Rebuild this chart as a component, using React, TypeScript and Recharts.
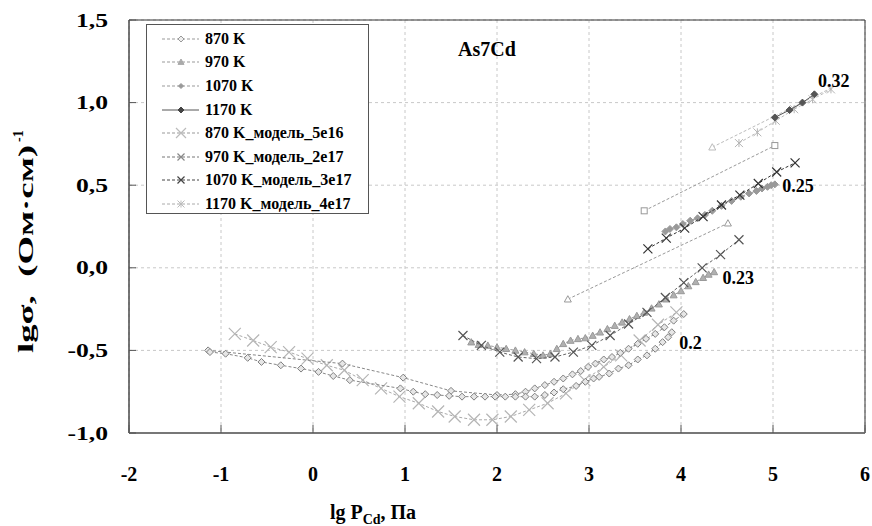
import React from "react";
import {
  ScatterChart,
  Scatter,
  XAxis,
  YAxis,
  CartesianGrid,
  ReferenceArea,
  Legend,
} from "recharts";

const FONT = "Liberation Serif, DejaVu Serif, serif";

// 870 K, experiment (dense run)
const exp870X = [-1.12, -0.95, -0.71, -0.56, -0.35, -0.13, 0.06, 0.22, 0.4, 0.95, 1.09, 1.22, 1.35, 1.48, 1.62, 1.75, 1.87, 1.98, 2.09, 2.2, 2.31, 2.41, 2.52, 2.62, 2.72, 2.86, 2.96, 3.05, 3.11, 3.22, 3.32, 3.43, 3.53, 3.63, 3.72, 3.8, 3.86, 3.9];
const exp870Y = [-0.51, -0.52, -0.545, -0.57, -0.59, -0.61, -0.63, -0.655, -0.68, -0.73, -0.75, -0.765, -0.77, -0.775, -0.78, -0.78, -0.78, -0.78, -0.78, -0.78, -0.78, -0.78, -0.77, -0.755, -0.735, -0.715, -0.69, -0.67, -0.66, -0.64, -0.61, -0.59, -0.555, -0.53, -0.49, -0.45, -0.42, -0.39];

// 870 K, second run (not in legend)
const exp870bX = [-1.14, 0.32, 0.98, 1.5, 2.0, 2.2, 2.31, 2.41, 2.52, 2.62, 2.72, 2.82, 2.91, 2.99, 3.07, 3.16, 3.25, 3.34, 3.43, 3.53, 3.62, 3.72, 3.82, 3.92, 4.03];
const exp870bY = [-0.5, -0.58, -0.665, -0.745, -0.77, -0.765, -0.75, -0.73, -0.71, -0.69, -0.67, -0.645, -0.625, -0.6, -0.58, -0.555, -0.54, -0.515, -0.49, -0.46, -0.43, -0.4, -0.36, -0.32, -0.28];

const exp970X = [1.72, 1.8, 1.9, 2.0, 2.1, 2.2, 2.3, 2.4, 2.5, 2.58, 2.65, 2.72, 2.8, 2.88, 2.96, 3.04, 3.12, 3.2, 3.28, 3.36, 3.44, 3.52, 3.6, 3.68, 3.76, 3.84, 3.92, 4.0, 4.08, 4.16, 4.24, 4.3, 4.36];
const exp970Y = [-0.45, -0.465, -0.47, -0.48, -0.49, -0.5, -0.51, -0.52, -0.53, -0.52, -0.49, -0.46, -0.44, -0.43, -0.425, -0.41, -0.39, -0.37, -0.35, -0.33, -0.31, -0.29, -0.27, -0.245, -0.22, -0.19, -0.165, -0.14, -0.11, -0.085, -0.06, -0.04, -0.025];

const exp1070X = [3.83, 3.88, 3.95, 4.02, 4.1, 4.18, 4.26, 4.34, 4.44, 4.55, 4.65, 4.74, 4.82, 4.88, 4.94, 4.98, 5.02];
const exp1070Y = [0.22, 0.235, 0.245, 0.265, 0.285, 0.3, 0.32, 0.345, 0.375, 0.405, 0.43, 0.45, 0.465, 0.48, 0.49, 0.5, 0.505];

const exp1170X = [5.02, 5.18, 5.32, 5.45];
const exp1170Y = [0.91, 0.955, 1.0, 1.05];

const mod870X = [-0.85, -0.65, -0.46, -0.26, -0.06, 0.15, 0.34, 0.54, 0.74, 0.94, 1.15, 1.36, 1.54, 1.75, 1.95, 2.15, 2.35, 2.55, 2.75, 2.95, 3.16, 3.35, 3.55, 3.75, 3.95];
const mod870Y = [-0.4, -0.44, -0.48, -0.51, -0.55, -0.59, -0.62, -0.68, -0.73, -0.78, -0.82, -0.87, -0.9, -0.92, -0.92, -0.9, -0.86, -0.82, -0.76, -0.68, -0.6, -0.53, -0.44, -0.345, -0.27];

const mod970X = [1.63, 1.83, 2.03, 2.23, 2.43, 2.63, 2.83, 3.03, 3.23, 3.43, 3.63, 3.83, 4.03, 4.23, 4.43, 4.63];
const mod970Y = [-0.41, -0.47, -0.51, -0.54, -0.55, -0.54, -0.51, -0.47, -0.41, -0.34, -0.27, -0.18, -0.09, 0.0, 0.08, 0.17];

const mod1070X = [3.64, 3.84, 4.04, 4.24, 4.44, 4.64, 4.84, 5.04, 5.24];
const mod1070Y = [0.115, 0.18, 0.24, 0.31, 0.38, 0.44, 0.51, 0.58, 0.635];

const mod1170X = [4.63, 4.83, 5.03, 5.23, 5.43, 5.63];
const mod1170Y = [0.755, 0.82, 0.89, 0.96, 1.02, 1.08];

// straight fit lines (not in legend)
const fitTopX = [4.34, 5.64];
const fitTopY = [0.73, 1.09];
const fitSquareX = [3.6, 5.02];
const fitSquareY = [0.345, 0.74];
const fitTriX = [2.77, 4.51];
const fitTriY = [-0.19, 0.27];

const slopeLabels = ["0.32", "0.25", "0.23", "0.2"];
const slopeX = [5.49, 5.1, 4.45, 3.98];
const slopeY = [1.13, 0.5, -0.06, -0.455];

const xTicks = [-2, -1, 0, 1, 2, 3, 4, 5, 6];
const yTicks = [-1, -0.5, 0, 0.5, 1, 1.5];

const zip = (xs: number[], ys: number[]) => xs.map((x, i) => ({ x, y: ys[i] }));

const diamond = (s: number, fill: string, stroke: string) => (p: any) => {
  const { cx, cy } = p;
  const h = s / 2;
  return (
    <path
      d={`M${cx},${cy - h}L${cx + h},${cy}L${cx},${cy + h}L${cx - h},${cy}Z`}
      fill={fill}
      stroke={stroke}
      strokeWidth={1}
    />
  );
};

const triangle = (s: number, fill: string, stroke: string) => (p: any) => {
  const { cx, cy } = p;
  const h = s / 2;
  return (
    <path
      d={`M${cx},${cy - h}L${cx + h},${cy + h * 0.8}L${cx - h},${cy + h * 0.8}Z`}
      fill={fill}
      stroke={stroke}
      strokeWidth={1}
    />
  );
};

const square = (s: number, stroke: string) => (p: any) => {
  const { cx, cy } = p;
  return <rect x={cx - s / 2} y={cy - s / 2} width={s} height={s} fill="#fff" stroke={stroke} />;
};

const cross = (s: number, stroke: string) => (p: any) => {
  const { cx, cy } = p;
  const h = s / 2;
  return (
    <path
      d={`M${cx - h},${cy - h}L${cx + h},${cy + h}M${cx + h},${cy - h}L${cx - h},${cy + h}`}
      stroke={stroke}
      strokeWidth={1.2}
      fill="none"
    />
  );
};

const star = (s: number, stroke: string) => (p: any) => {
  const { cx, cy } = p;
  const h = s / 2;
  return (
    <path
      d={`M${cx - h},${cy - h}L${cx + h},${cy + h}M${cx + h},${cy - h}L${cx - h},${cy + h}M${cx},${cy - h}L${cx},${cy + h}`}
      stroke={stroke}
      strokeWidth={1}
      fill="none"
    />
  );
};

const none = () => <g />;

const dash = "3 2";

const legendItems = [
  { name: "870 K", stroke: "#999", dash, shape: diamond(6, "#eee", "#999") },
  { name: "970 K", stroke: "#999", dash, shape: triangle(6, "#aaa", "#aaa") },
  { name: "1070 K", stroke: "#999", dash, shape: diamond(5, "#999", "#999") },
  { name: "1170 K", stroke: "#555", dash: undefined, shape: diamond(6, "#444", "#444") },
  { name: "870 K_модель_5e16", stroke: "#999", dash, shape: cross(10, "#bbb") },
  { name: "970 K_модель_2e17", stroke: "#777", dash, shape: cross(7, "#888") },
  { name: "1070 K_модель_3e17", stroke: "#444", dash, shape: cross(7, "#444") },
  { name: "1170 K_модель_4e17", stroke: "#aaa", dash, shape: star(7, "#bbb") },
];

const LegendBox = () => (
  <div
    style={{
      width: 223,
      height: 190,
      boxSizing: "border-box",
      border: "1px solid #555",
      background: "#fff",
      paddingTop: 2,
      fontFamily: FONT,
      fontWeight: "bold",
      fontSize: 16,
      color: "#000",
    }}
  >
    {legendItems.map((it) => (
      <div key={it.name} style={{ height: 23.6, display: "flex", alignItems: "center" }}>
        <svg width={58} height={16} style={{ flex: "none" }}>
          <line x1={15} x2={52} y1={8} y2={8} stroke={it.stroke} strokeDasharray={it.dash} />
          {it.shape({ cx: 34, cy: 8 })}
        </svg>
        <span style={{ whiteSpace: "nowrap" }}>{it.name}</span>
      </div>
    ))}
  </div>
);

const fmtY = (v: number) => v.toFixed(1).replace(".", ",");

const XTick = (p: any) => {
  const { x, y, payload } = p;
  return (
    <g>
      <line x1={x} x2={x} y1={y - 34} y2={y - 42} stroke="#555" />
      <text x={x} y={y} dy="0.71em" textAnchor="middle" fontFamily={FONT} fontWeight="bold" fontSize={20} fill="#000">
        {payload.value}
      </text>
    </g>
  );
};

const YTick = (p: any) => {
  const { x, y, payload } = p;
  return (
    <g>
      <line x1={x + 21} x2={x + 28} y1={y} y2={y} stroke="#555" />
      <text
        transform={`translate(${x},${y}) scale(1.35,1)`}
        dy="0.35em"
        textAnchor="end"
        fontFamily={FONT}
        fontWeight="bold"
        fontSize={19}
        fill="#000"
      >
        {fmtY(payload.value)}
      </text>
    </g>
  );
};

const Titles = () => (
  <g fontFamily={FONT} fontWeight="bold" fill="#000">
    <text x={373} y={519} textAnchor="middle" fontSize={20}>
      lg P<tspan dy={5} fontSize={14}>Cd</tspan>
      <tspan dy={-5}>, Па</tspan>
    </text>
    <text x={487} y={56} textAnchor="middle" fontSize={20}>
      As7Cd
    </text>
  </g>
);

const YTitle = () => (
  <g transform="translate(33,236) rotate(-90)" fontFamily={FONT} fontWeight="bold" fill="#000">
    <text x={-117} y={0} fontSize={21} textLength={208} lengthAdjust="spacingAndGlyphs">
      {"lgσ,\u00a0\u00a0(Ом·см)"}
    </text>
    <text x={94} y={-10} fontSize={14}>
      -1
    </text>
  </g>
);

const SlopeText = (p: any) => (
  <text
    x={p.cx}
    y={p.cy}
    dy="0.35em"
    fontFamily={FONT}
    fontWeight="bold"
    fontSize={18}
    fill="#000"
  >
    {p.payload.label}
  </text>
);

const line = (stroke: string, d?: string) => ({ stroke, strokeWidth: 1, strokeDasharray: d });

export default function App() {
  const slopes = slopeLabels.map((label, i) => ({ x: slopeX[i], y: slopeY[i], label }));
  const topTri = triangle(7, "#fff", "#bbb");
  return (
    <div style={{ position: "absolute", left: 0, top: 0, background: "#fff" }}>
      <ScatterChart width={872} height={526} margin={{ top: 20, right: 7, left: 0, bottom: 0 }}>
        <CartesianGrid stroke="#c8c8c8" strokeDasharray="3 3" />
        <XAxis
          type="number"
          dataKey="x"
          domain={[-2, 6]}
          ticks={xTicks}
          height={93}
          tickSize={32}
          tickMargin={2}
          tickLine={false}
          tick={<XTick />}
          axisLine={{ stroke: "#777", strokeWidth: 2 }}
          label={{ content: () => <Titles /> }}
        />
        <YAxis
          type="number"
          dataKey="y"
          domain={[-1, 1.5]}
          ticks={yTicks}
          width={129}
          tickSize={19}
          tickMargin={2}
          tickLine={false}
          tick={<YTick />}
          axisLine={{ stroke: "#555" }}
          label={{ content: () => <YTitle /> }}
        />
        <ReferenceArea x1={-2} x2={6} y1={-1} y2={1.5} fill="none" stroke="#333" fillOpacity={0} />
        <Legend
          layout="vertical"
          align="center"
          verticalAlign="middle"
          wrapperStyle={{ left: 146, top: 24, width: 223, height: 190 }}
          content={() => <LegendBox />}
        />

        <Scatter name="fit3" data={zip(fitTriX, fitTriY)} line={line("#999", dash)} shape={triangle(7, "#fff", "#999")} legendType="none" isAnimationActive={false} />
        <Scatter name="fit2" data={zip(fitSquareX, fitSquareY)} line={line("#999", dash)} shape={square(6, "#999")} legendType="none" isAnimationActive={false} />
        <Scatter
          name="fit1"
          data={zip(fitTopX, fitTopY)}
          line={line("#bbb", dash)}
          shape={(p: any) => (p.payload.x === fitTopX[0] ? topTri(p) : none())}
          legendType="none"
          isAnimationActive={false}
        />

        <Scatter name="870 K_модель_5e16" data={zip(mod870X, mod870Y)} line={line("#aaa", dash)} shape={cross(12, "#b5b5b5")} isAnimationActive={false} />
        <Scatter name="870 K b" data={zip(exp870bX, exp870bY)} line={line("#888", dash)} shape={diamond(7, "#e6e6e6", "#808080")} legendType="none" isAnimationActive={false} />
        <Scatter name="870 K" data={zip(exp870X, exp870Y)} line={line("#888", dash)} shape={diamond(7, "#e6e6e6", "#808080")} isAnimationActive={false} />
        <Scatter name="970 K" data={zip(exp970X, exp970Y)} line={line("#999", dash)} shape={triangle(7, "#b0b0b0", "#999")} isAnimationActive={false} />
        <Scatter name="970 K_модель_2e17" data={zip(mod970X, mod970Y)} line={line("#666", dash)} shape={cross(9, "#555")} isAnimationActive={false} />
        <Scatter name="1070 K" data={zip(exp1070X, exp1070Y)} line={line("#999", dash)} shape={diamond(7, "#999", "#999")} isAnimationActive={false} />
        <Scatter name="1070 K_модель_3e17" data={zip(mod1070X, mod1070Y)} line={line("#333", dash)} shape={cross(9, "#333")} isAnimationActive={false} />
        <Scatter name="1170 K_модель_4e17" data={zip(mod1170X, mod1170Y)} line={line("#bbb", dash)} shape={star(8, "#b5b5b5")} isAnimationActive={false} />
        <Scatter name="1170 K" data={zip(exp1170X, exp1170Y)} line={line("#555")} shape={diamond(7, "#555", "#555")} isAnimationActive={false} />

        <Scatter name="slopes" data={slopes} shape={SlopeText} legendType="none" isAnimationActive={false} />
      </ScatterChart>
    </div>
  );
}
